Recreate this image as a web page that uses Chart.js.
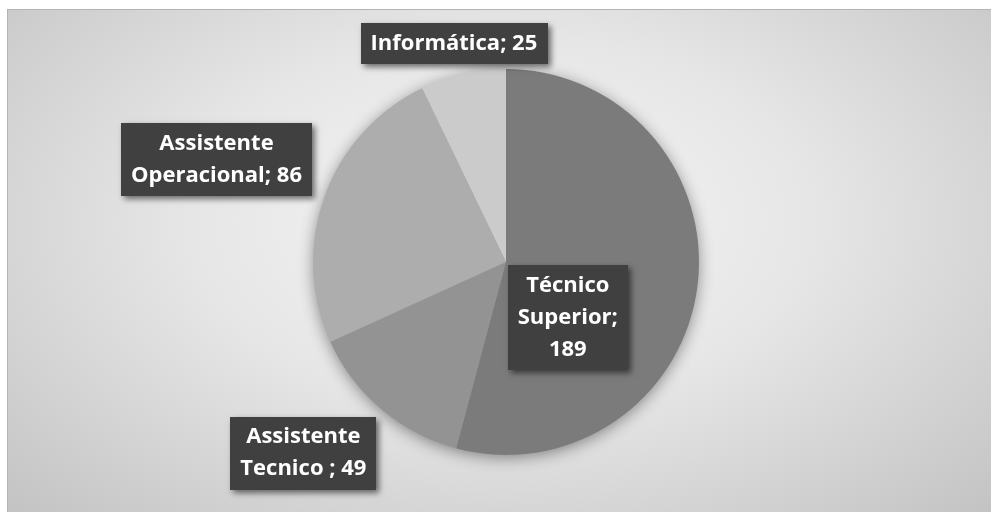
<!DOCTYPE html>
<html>
<head>
<meta charset="utf-8">
<script src="https://cdn.jsdelivr.net/npm/chart.js@4"></script>
<style>
  html, body { margin: 0; padding: 0; background: #fff; }
  body { width: 991px; height: 512px; position: relative; overflow: hidden; }
  .frame {
    position: absolute; left: 7px; top: 9px; width: 984px; height: 503px;
    border-top: 1px solid #b3b3b3; border-left: 1px solid #b3b3b3;
    background: radial-gradient(ellipse farthest-corner at 50% 42%, #f6f6f6 0%, #e6e6e6 45%, #c3c3c3 100%);
  }
  .wrap { position: absolute; left: 0; top: 0; width: 991px; height: 512px; }
</style>
</head>
<body>
<div class="frame"></div>
<div class="wrap"><canvas id="pie"></canvas></div>
<script>
const categories = ['Técnico Superior', 'Assistente Tecnico ', 'Assistente Operacional', 'Informática'];
const counts = [189, 49, 86, 25];

const sliceColors = ['#7b7b7b', '#939393', '#adadad', '#cbcbcb'];
// where each label box sits, relative to pie centre, in radius units
const labelSpots = [[0.32, 0.29], [-1.05, 0.99], [-1.50, -0.53], [-0.27, -1.13]];
const labelWrap = [112, 145, 190, 230];
const labelFont = 'bold 22px "Open Sans"';
const lineH = 32;

function wrapText(ctx, text, maxW) {
    const words = text.split(' ');
    let lines = [], cur = '';
    words.forEach(w => {
        const test = cur ? cur + ' ' + w : w;
        if (cur && ctx.measureText(test).width > maxW) {
            lines.push(cur);
            cur = w;
        } else cur = test;
    });
    if (cur) lines.push(cur);
    return lines;
}

const pieShadow = {
    id: 'pieShadow',
    beforeDatasetsDraw(chart) {
        const arc = chart.getDatasetMeta(0).data[0];
        if (!arc) return;
        const ctx = chart.ctx;
        ctx.save();
        ctx.shadowColor = 'rgba(0,0,0,0.45)';
        ctx.shadowBlur = 16;
        ctx.shadowOffsetY = 3;
        ctx.beginPath();
        ctx.arc(arc.x, arc.y, arc.outerRadius - 1, 0, Math.PI * 2);
        ctx.fillStyle = '#8a8a8a';
        ctx.fill();
        ctx.restore();
    }
};

const boxLabels = {
    id: 'boxLabels',
    afterDatasetsDraw(chart) {
        const ctx = chart.ctx;
        const meta = chart.getDatasetMeta(0);
        ctx.save();
        ctx.font = labelFont;
        meta.data.forEach((arc, i) => {
            const r = arc.outerRadius;
            const cx = arc.x + labelSpots[i][0] * r;
            const cy = arc.y + labelSpots[i][1] * r;
            const lines = wrapText(ctx, categories[i] + '; ' + counts[i], labelWrap[i]);
            const w = Math.max(...lines.map(l => ctx.measureText(l).width)) + 20;
            const h = lines.length * lineH + 9;
            ctx.save();
            ctx.shadowColor = 'rgba(0,0,0,0.55)';
            ctx.shadowBlur = 6;
            ctx.shadowOffsetX = 3;
            ctx.shadowOffsetY = 3;
            ctx.fillStyle = '#404040';
            ctx.fillRect(Math.round(cx - w / 2), Math.round(cy - h / 2), Math.round(w), h);
            ctx.restore();
            ctx.fillStyle = '#ffffff';
            ctx.textAlign = 'center';
            ctx.textBaseline = 'middle';
            lines.forEach((l, k) => {
                ctx.fillText(l, cx, cy - (lines.length - 1) * lineH / 2 + k * lineH);
            });
        });
        ctx.restore();
    }
};

new Chart(document.getElementById('pie'), {
    type: 'pie',
    data: {
        labels: categories,
        datasets: [{
            data: counts,
            backgroundColor: sliceColors,
            borderWidth: 0
        }]
    },
    options: {
        responsive: true,
        maintainAspectRatio: false,
        animation: false,
        layout: { padding: { left: 21, right: 0, top: 69, bottom: 57 } },
        plugins: {
            legend: { display: false },
            tooltip: { enabled: false }
        }
    },
    plugins: [pieShadow, boxLabels]
});
</script>
</body>
</html>
